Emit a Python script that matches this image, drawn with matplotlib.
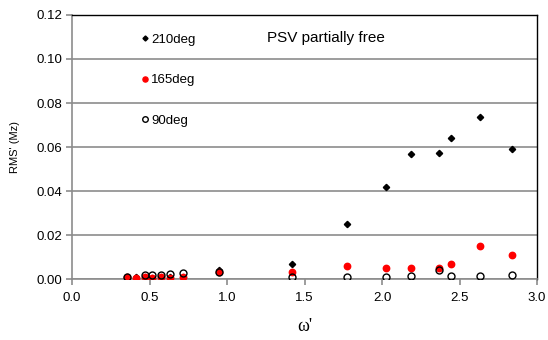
import matplotlib
matplotlib.use("Agg")
import matplotlib.pyplot as plt
import numpy as np

# omega' values shared by all three series
omega = [0.357, 0.41, 0.47, 0.518, 0.572, 0.632, 0.714, 0.948, 1.421,
         1.774, 2.028, 2.185, 2.366, 2.447, 2.63, 2.84]
rms_210 = [0.0008, 0.0010, 0.0008, 0.0007, 0.0008, 0.0008, 0.0010, 0.0043, 0.0071,
           0.0249, 0.0418, 0.0568, 0.0573, 0.0642, 0.0736, 0.0590]
rms_165 = [0.0008, 0.0005, 0.0008, 0.0006, 0.0008, 0.0006, 0.0009, 0.0033, 0.0033,
           0.0059, 0.0049, 0.0050, 0.0049, 0.0071, 0.0150, 0.0108]
rms_90 = [0.0008, np.nan, 0.0018, 0.0021, 0.0019, 0.0023, 0.0029, 0.0033, 0.0009,
          0.0010, 0.0010, 0.0015, 0.0041, 0.0014, 0.0014, 0.0018]

plt.rcParams['font.family'] = ['Liberation Sans', 'DejaVu Sans']

fig = plt.figure(figsize=(5.48, 3.40), dpi=100)
ax = fig.add_axes([0.1314, 0.179, 0.8486, 0.777])

ax.plot(omega, rms_210, 'D', color='black', markersize=3.2, label='210deg', zorder=3)
ax.plot(omega, rms_165, 'o', color='red', markersize=4.6, label='165deg', zorder=4)
ax.plot(omega, rms_90, 'o', markerfacecolor='none', markeredgecolor='black',
        markeredgewidth=1.0, markersize=5.0, label='90deg', zorder=5)

ax.set_xlim(0, 3.0)
ax.set_ylim(0, 0.12)
ax.set_xticks(np.arange(0, 3.01, 0.5))
ax.set_yticks(np.arange(0, 0.121, 0.02))
ax.xaxis.set_major_formatter(matplotlib.ticker.FormatStrFormatter('%.1f'))
ax.yaxis.set_major_formatter(matplotlib.ticker.FormatStrFormatter('%.2f'))

ax.grid(axis='y', color='#8c8c8c', linewidth=1.2)
ax.set_axisbelow(True)
for side in ['left', 'bottom']:
    ax.spines[side].set_color('#8c8c8c')
    ax.spines[side].set_linewidth(1.2)
for side in ['top', 'right']:
    ax.spines[side].set_color('black')
    ax.spines[side].set_linewidth(1.0)
ax.tick_params(axis='both', direction='out', length=4, width=1.2, color='#8c8c8c',
               labelsize=9.5, pad=3)
ax.tick_params(axis='x', pad=5)

ax.set_ylabel("RMS' (Mz)", fontsize=8, labelpad=12)
ax.set_xlabel("ω'", fontsize=13, family=['Liberation Serif', 'DejaVu Serif'], labelpad=10)

ax.text(0.546, 0.911, 'PSV partially free', transform=ax.transAxes,
        ha='center', va='center', fontsize=11)

ax.legend(loc='upper left', bbox_to_anchor=(0.137, 0.95), frameon=False,
          fontsize=9.5, handlelength=0.6, handletextpad=0.15, labelspacing=2.15,
          borderaxespad=0, markerscale=0.8)

fig.savefig('out.png', dpi=100)
